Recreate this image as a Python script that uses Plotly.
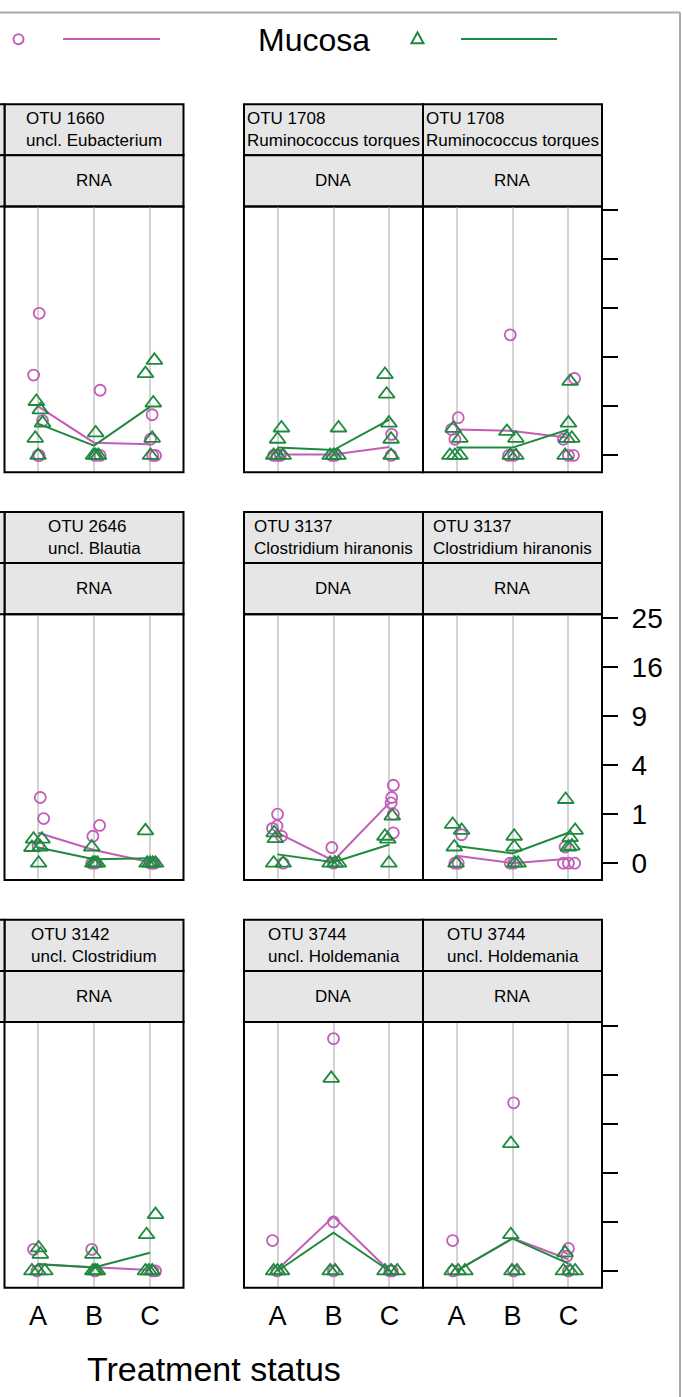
import numpy as np
import plotly.graph_objects as go

# ---------------- data (y values are square-root abundances; axis ticks show raw values) -------------
categories = ["A", "B", "C"]
tick_raw = [0, 1, 4, 9, 16, 25]

panel_otu = ["OTU 1660", "OTU 1708", "OTU 1708",
             "OTU 2646", "OTU 3137", "OTU 3137",
             "OTU 3142", "OTU 3744", "OTU 3744"]
panel_taxon = ["uncl. Eubacterium", "Ruminococcus torques", "Ruminococcus torques",
               "uncl. Blautia", "Clostridium hiranonis", "Clostridium hiranonis",
               "uncl. Clostridium", "uncl. Holdemania", "uncl. Holdemania"]
panel_type = ["RNA", "DNA", "RNA", "RNA", "DNA", "RNA", "RNA", "DNA", "RNA"]

# Lumen (magenta circles): jittered treatment position and sqrt abundance
lumen_x = [
    [1.02, 0.92, 1.08, 1.02, 1.00, 2.11, 2.02, 2.11, 3.04, 3.01, 3.10, 3.05],
    [0.99, 1.05, 0.93, 1.97, 2.03, 3.04, 3.03],
    [1.03, 0.91, 0.97, 1.96, 1.93, 2.02, 3.11, 2.91, 3.00, 3.09],
    [1.04, 1.10, 1.00, 2.10, 1.98, 1.96, 2.02, 3.01, 3.05, 3.08],
    [1.00, 0.99, 0.91, 1.07, 1.10, 1.97, 2.00, 3.07, 3.04, 3.03, 3.07, 3.07],
    [1.09, 0.97, 1.03, 2.02, 1.96, 2.94, 2.91, 3.00, 3.11],
    [0.92, 0.98, 1.96, 2.02, 3.10, 3.05],
    [0.91, 0.99, 2.00, 2.00, 2.00, 3.01, 3.05],
    [0.93, 0.94, 2.02, 2.02, 3.00, 2.97, 3.00],
]
lumen_y = [
    [2.90, 1.64, 0.71, 0.00, 0.00, 1.33, 0.00, 0.00, 0.83, 0.33, 0.00, 0.00],
    [0.00, 0.00, 0.00, 0.00, 0.00, 0.43, 0.00],
    [0.77, 0.53, 0.33, 2.46, 0.00, 0.00, 1.57, 0.33, 0.00, 0.00],
    [1.34, 0.91, 0.35, 0.77, 0.55, 0.00, 0.00, 0.00, 0.00, 0.00],
    [1.00, 0.76, 0.71, 0.55, 0.00, 0.32, 0.00, 1.59, 1.34, 1.23, 1.00, 0.62],
    [0.58, 0.00, 0.00, 0.00, 0.00, 0.33, 0.00, 0.00, 0.00],
    [0.44, 0.00, 0.44, 0.00, 0.00, 0.00],
    [0.62, 0.00, 4.74, 1.00, 0.00, 0.00, 0.00],
    [0.62, 0.00, 3.43, 0.00, 0.46, 0.30, 0.00],
]
# Mucosa (green triangles)
mucosa_x = [
    [0.97, 1.04, 1.08, 0.95, 1.00, 2.03, 2.03, 1.99, 2.08, 3.08, 2.92, 3.06, 3.04, 3.01],
    [1.07, 1.00, 0.93, 1.00, 1.10, 2.09, 1.94, 2.00, 2.08, 2.92, 2.95, 2.99, 3.03, 3.03],
    [0.94, 1.06, 0.88, 0.97, 1.06, 1.90, 2.06, 1.96, 2.06, 3.00, 3.06, 2.97, 3.03, 2.94],
    [0.92, 1.07, 0.89, 1.04, 1.01, 1.96, 1.98, 2.02, 2.06, 2.92, 2.95, 3.00, 3.05, 3.10],
    [0.94, 0.96, 0.93, 1.10, 2.03, 1.94, 2.09, 3.05, 2.92, 2.97, 2.99],
    [0.93, 1.09, 0.96, 0.99, 2.03, 2.03, 2.04, 2.10, 2.95, 3.12, 3.03, 3.06, 3.00],
    [1.01, 1.04, 0.89, 1.00, 1.12, 1.98, 1.98, 2.02, 2.06, 3.10, 2.94, 2.92, 2.98, 3.04],
    [0.93, 1.00, 1.07, 1.96, 1.94, 2.03, 2.92, 3.03, 3.14],
    [0.92, 1.03, 1.15, 1.97, 1.97, 1.99, 2.08, 2.94, 2.91, 3.03, 3.12],
]
mucosa_y = [
    [1.10, 0.93, 0.66, 0.35, 0.00, 0.46, 0.00, 0.00, 0.00, 1.94, 1.67, 1.07, 0.35, 0.00],
    [0.56, 0.33, 0.00, 0.00, 0.00, 0.56, 0.00, 0.00, 0.00, 1.65, 1.25, 0.66, 0.33, 0.00],
    [0.55, 0.35, 0.00, 0.00, 0.00, 0.49, 0.35, 0.00, 0.00, 0.66, 0.35, 0.35, 1.51, 0.00],
    [0.49, 0.49, 0.32, 0.33, 0.00, 0.33, 0.00, 0.00, 0.00, 0.66, 0.00, 0.00, 0.00, 0.00],
    [0.62, 0.50, 0.00, 0.00, 0.00, 0.00, 0.00, 0.96, 0.55, 0.49, 0.00],
    [0.79, 0.67, 0.33, 0.00, 0.55, 0.33, 0.00, 0.00, 1.30, 0.67, 0.52, 0.35, 0.33],
    [0.47, 0.34, 0.00, 0.00, 0.00, 0.34, 0.00, 0.00, 0.00, 1.15, 0.74, 0.00, 0.00, 0.00],
    [0.00, 0.00, 0.00, 3.93, 0.00, 0.00, 0.00, 0.00, 0.00],
    [0.00, 0.00, 0.00, 2.60, 0.74, 0.00, 0.00, 0.37, 0.00, 0.00, 0.00],
]
# group averages per treatment (A, B, C)
lumen_mean = [
    [1.00, 0.26, 0.23], [0.02, 0.02, 0.17], [0.53, 0.50, 0.36],
    [0.62, 0.27, 0.02], [0.62, 0.05, 1.23], [0.15, 0.00, 0.09],
    [0.13, 0.08, 0.02], [0.03, 1.11, 0.00], [0.00, 0.67, 0.24],
]
mucosa_mean = [
    [0.65, 0.20, 0.99], [0.16, 0.11, 0.73], [0.16, 0.16, 0.53],
    [0.32, 0.08, 0.10], [0.18, 0.02, 0.38], [0.35, 0.20, 0.62],
    [0.14, 0.07, 0.37], [0.00, 0.78, 0.00], [0.00, 0.66, 0.15],
]

# ---------------- styling / layout ----------------
W, H = 683, 1397
MAG = "#C25DB8"
GRN = "#1E8A3E"
STRIP = "#E6E6E6"
FONT = "Liberation Sans, Arial, Helvetica, sans-serif"

def fx(px):
    return px / W

def fy(py):
    return 1 - py / H

col_px = [(4.5, 183.5), (244, 423), (423, 602)]
row_px = [(197, 465), (608, 876), (1019, 1287)]
STRIP_H = 51.5

fig = go.Figure()
layout = dict(
    width=W, height=H, autosize=False,
    margin=dict(l=0, r=0, t=0, b=0),
    paper_bgcolor="white", plot_bgcolor="white",
    showlegend=False,
    font=dict(family=FONT, color="black"),
)
shapes = []
annotations = []

for i in range(9):
    r, c = divmod(i, 3)
    k = i + 1
    xa = "x" if k == 1 else f"x{k}"
    ya = "y" if k == 1 else f"y{k}"
    xk = "xaxis" if k == 1 else f"xaxis{k}"
    yk = "yaxis" if k == 1 else f"yaxis{k}"
    x0, x1 = col_px[c]
    y0, y1 = row_px[r]

    layout[xk] = dict(
        domain=[fx(x0), fx(x1)], range=[0.4, 3.6], anchor=ya,
        tickvals=[1, 2, 3], ticktext=categories,
        showticklabels=(r == 2), ticks="",
        tickfont=dict(size=27, family=FONT, color="black"),
        ticklabelstandoff=9,
        showgrid=True, gridcolor="#D3D3D3", gridwidth=2,
        zeroline=False, showline=False,
        fixedrange=True,
    )
    ydict = dict(
        domain=[fy(y1), fy(y0)], range=[-0.345, 5.08], anchor=xa,
        tickvals=list(np.sqrt(tick_raw)), ticktext=[str(t) for t in tick_raw],
        showgrid=False, zeroline=False, showline=False, fixedrange=True,
        showticklabels=False, ticks="",
    )
    if c == 2:
        ydict.update(side="right", ticks="outside", ticklen=15, tickwidth=2,
                     tickcolor="black", showticklabels=(r == 1),
                     tickfont=dict(size=28, family=FONT, color="black"),
                     ticklabelstandoff=8)
    layout[yk] = ydict

    # data
    fig.add_trace(go.Scatter(
        x=lumen_x[i], y=lumen_y[i], mode="markers", xaxis=xa, yaxis=ya,
        marker=dict(symbol="circle-open", size=11, color=MAG, line=dict(width=1.8, color=MAG)),
        cliponaxis=False, hoverinfo="skip"))
    fig.add_trace(go.Scatter(
        x=[1, 2, 3], y=lumen_mean[i], mode="lines", xaxis=xa, yaxis=ya,
        line=dict(color=MAG, width=2), hoverinfo="skip"))
    fig.add_trace(go.Scatter(
        x=mucosa_x[i], y=mucosa_y[i], mode="markers", xaxis=xa, yaxis=ya,
        marker=dict(symbol="triangle-up-open", size=14, color=GRN, line=dict(width=1.8, color=GRN)),
        cliponaxis=False, hoverinfo="skip"))
    fig.add_trace(go.Scatter(
        x=[1, 2, 3], y=mucosa_mean[i], mode="lines", xaxis=xa, yaxis=ya,
        line=dict(color=GRN, width=2), hoverinfo="skip"))

    # panel frame
    shapes.append(dict(type="rect", xref="paper", yref="paper",
                       x0=fx(x0), x1=fx(x1), y0=fy(y1), y1=fy(y0),
                       line=dict(color="black", width=2), layer="above"))
    # strips
    st = y0 - 2 * STRIP_H
    sm = y0 - STRIP_H
    for (a, b) in [(st, sm), (sm, y0)]:
        shapes.append(dict(type="rect", xref="paper", yref="paper",
                           x0=fx(x0), x1=fx(x1), y0=fy(b), y1=fy(a),
                           fillcolor=STRIP, line=dict(color="black", width=2), layer="below"))
    annotations.append(dict(xref="paper", yref="paper", x=fx((x0 + x1) / 2), y=fy((st + sm) / 2),
                            text=f"{panel_otu[i]}<br>{panel_taxon[i]}", showarrow=False,
                            align="left", xanchor="center", yanchor="middle",
                            font=dict(size=17, family=FONT, color="black")))
    annotations.append(dict(xref="paper", yref="paper", x=fx((x0 + x1) / 2), y=fy((sm + y0) / 2),
                            text=panel_type[i], showarrow=False,
                            xanchor="center", yanchor="middle",
                            font=dict(size=17, family=FONT, color="black")))
    if c == 0:
        # sliver of the neighbouring (cropped) strip on the far left
        for (a, b) in [(st, sm), (sm, y0)]:
            shapes.append(dict(type="rect", xref="paper", yref="paper",
                               x0=fx(-10), x1=fx(x0), y0=fy(b), y1=fy(a),
                               fillcolor=STRIP, line=dict(color="black", width=2), layer="below"))

# legend key (decoration)
shapes.append(dict(type="circle", xref="paper", yref="paper",
                   x0=fx(13.5), x1=fx(23.5), y0=fy(33.5), y1=fy(23.5),
                   line=dict(color=MAG, width=2)))
shapes.append(dict(type="line", xref="paper", yref="paper",
                   x0=fx(63), x1=fx(160), y0=fy(28.3), y1=fy(28.3),
                   line=dict(color=MAG, width=2)))
shapes.append(dict(type="path", xref="paper", yref="paper",
                   path=f"M {fx(411.5)} {fy(32.5)} L {fx(423.5)} {fy(32.5)} L {fx(417.5)} {fy(21.5)} Z",
                   line=dict(color=GRN, width=2)))
shapes.append(dict(type="line", xref="paper", yref="paper",
                   x0=fx(461), x1=fx(557), y0=fy(28.3), y1=fy(28.3),
                   line=dict(color=GRN, width=2)))
annotations.append(dict(xref="paper", yref="paper", x=fx(314), y=fy(29.5), text="Mucosa",
                        showarrow=False, xanchor="center", yanchor="middle",
                        font=dict(size=32, family=FONT, color="black")))
annotations.append(dict(xref="paper", yref="paper", x=fx(214), y=fy(1369), text="Treatment status",
                        showarrow=False, xanchor="center", yanchor="middle",
                        font=dict(size=34, family=FONT, color="black")))

# outer frame of the original figure (top and right edges visible)
shapes.append(dict(type="line", xref="paper", yref="paper", x0=0, x1=fx(680), y0=fy(1.5), y1=fy(1.5),
                   line=dict(color="#AAAAAA", width=2)))
shapes.append(dict(type="line", xref="paper", yref="paper", x0=fx(680), x1=fx(680), y0=fy(1.5), y1=0,
                   line=dict(color="#AAAAAA", width=2)))

layout["shapes"] = shapes
layout["annotations"] = annotations
fig.update_layout(**layout)
fig.write_html(
    "out.html",
    config={"displayModeBar": False},
    post_script="document.body.style.margin='0px';document.body.style.overflow='hidden';"
                "document.documentElement.style.overflow='hidden';",
)
